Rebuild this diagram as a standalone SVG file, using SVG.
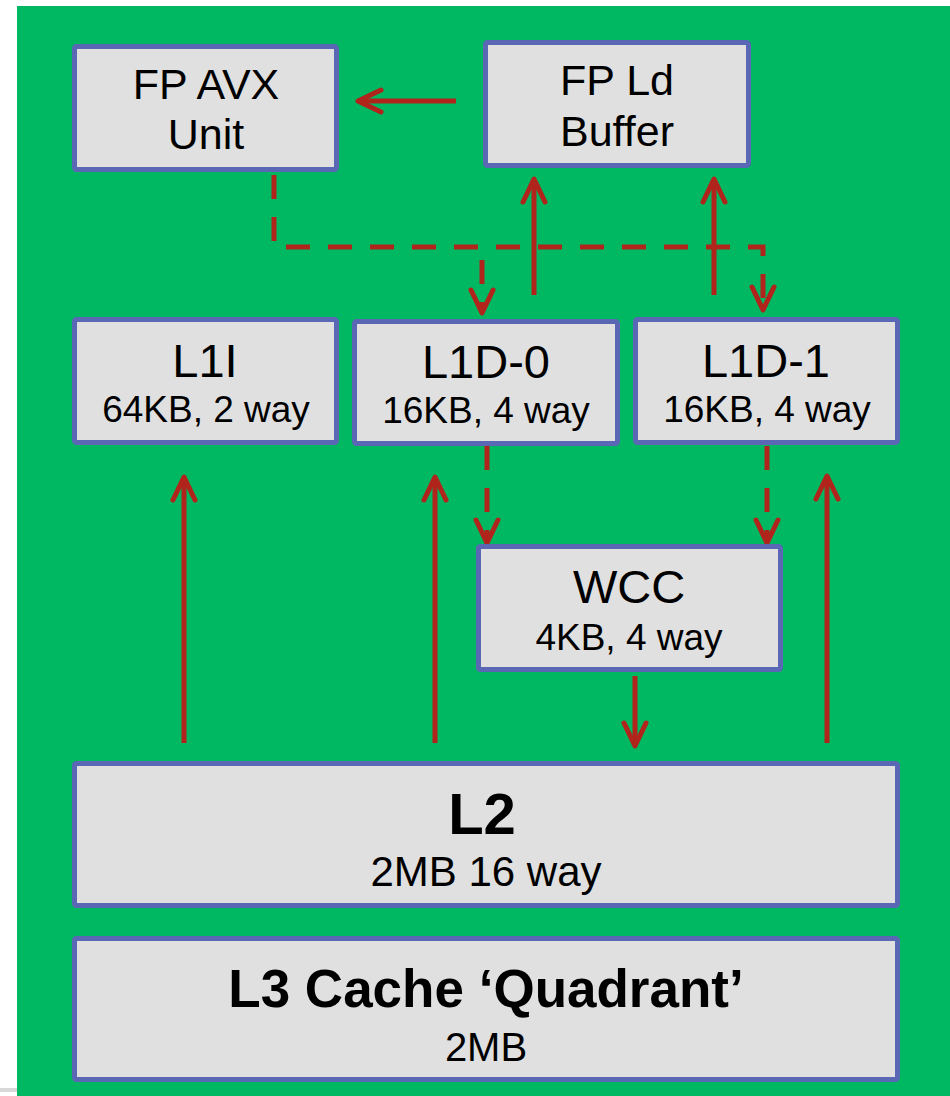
<svg xmlns="http://www.w3.org/2000/svg" width="950" height="1096" viewBox="0 0 950 1096">
<style>
.box{fill:#e0e0e0;stroke:#5a67b5;stroke-width:5}
.t{font-family:"Liberation Sans",Arial,sans-serif;fill:#000;text-anchor:middle}
.c{fill:none;stroke:#b0241b;stroke-width:5}
.d{stroke-dasharray:24 18}
</style>
<defs>
<marker id="ah" viewBox="-28 -16 32 32" markerWidth="32" markerHeight="32" refX="0" refY="0" orient="auto" markerUnits="userSpaceOnUse" overflow="visible">
<path d="M-23,-11 L0,0 L-23,11" fill="none" stroke="#b0241b" stroke-width="5" stroke-linecap="round" stroke-linejoin="round" stroke-dasharray="none"/>
</marker>
</defs>
<rect x="17" y="6" width="933" height="1090" fill="#00b862"/>
<rect x="0" y="1088" width="17" height="4" fill="#d9d9d9"/>
<g id="connectors">
<path class="c" d="M456,101 H358" marker-end="url(#ah)"/>
<path class="c" d="M534,295 V179" marker-end="url(#ah)"/>
<path class="c" d="M714,295 V179" marker-end="url(#ah)"/>
<path class="c d" d="M274,175 V247 H763 V310" marker-end="url(#ah)"/>
<path class="c d" d="M482,260 V313" marker-end="url(#ah)"/>
<path class="c d" d="M487,446 V543" marker-end="url(#ah)"/>
<path class="c d" d="M767,446 V543" marker-end="url(#ah)"/>
<path class="c" d="M635,676 V746" marker-end="url(#ah)"/>
<path class="c" d="M184,743 V477" marker-end="url(#ah)"/>
<path class="c" d="M435,743 V477" marker-end="url(#ah)"/>
<path class="c" d="M827,743 V476" marker-end="url(#ah)"/>
</g>
<g id="fp-avx">
<rect class="box" x="74.5" y="46.5" width="262" height="123" rx="2"/>
<text class="t" x="206" y="99" font-size="43">FP AVX</text>
<text class="t" x="206" y="149" font-size="43">Unit</text>
</g>
<g id="fp-ld">
<rect class="box" x="485.5" y="42.5" width="263" height="123" rx="2"/>
<text class="t" x="617" y="95" font-size="43">FP Ld</text>
<text class="t" x="617" y="146" font-size="43">Buffer</text>
</g>
<g id="l1i">
<rect class="box" x="74.5" y="319.5" width="262" height="123" rx="2"/>
<text class="t" x="205" y="377" font-size="47">L1I</text>
<text class="t" x="206" y="422" font-size="37">64KB, 2 way</text>
</g>
<g id="l1d-0">
<rect class="box" x="354.5" y="321.5" width="263" height="122" rx="2"/>
<text class="t" x="486" y="378" font-size="47">L1D-0</text>
<text class="t" x="486" y="423" font-size="37">16KB, 4 way</text>
</g>
<g id="l1d-1">
<rect class="box" x="635.5" y="319.5" width="262" height="123" rx="2"/>
<text class="t" x="766" y="377" font-size="47">L1D-1</text>
<text class="t" x="767" y="422" font-size="37">16KB, 4 way</text>
</g>
<g id="wcc">
<rect class="box" x="478.5" y="546.5" width="302" height="123" rx="2"/>
<text class="t" x="629" y="603" font-size="47">WCC</text>
<text class="t" x="629" y="650" font-size="37">4KB, 4 way</text>
</g>
<g id="l2">
<rect class="box" x="74.5" y="763.5" width="823" height="142" rx="2"/>
<text class="t" x="482" y="834" font-size="58" font-weight="bold">L2</text>
<text class="t" x="486" y="886" font-size="42">2MB 16 way</text>
</g>
<g id="l3">
<rect class="box" x="74.5" y="938.5" width="823" height="141" rx="2"/>
<text class="t" x="486" y="1007" font-size="53" font-weight="bold">L3 Cache ‘Quadrant’</text>
<text class="t" x="486" y="1061" font-size="40">2MB</text>
</g>
</svg>
